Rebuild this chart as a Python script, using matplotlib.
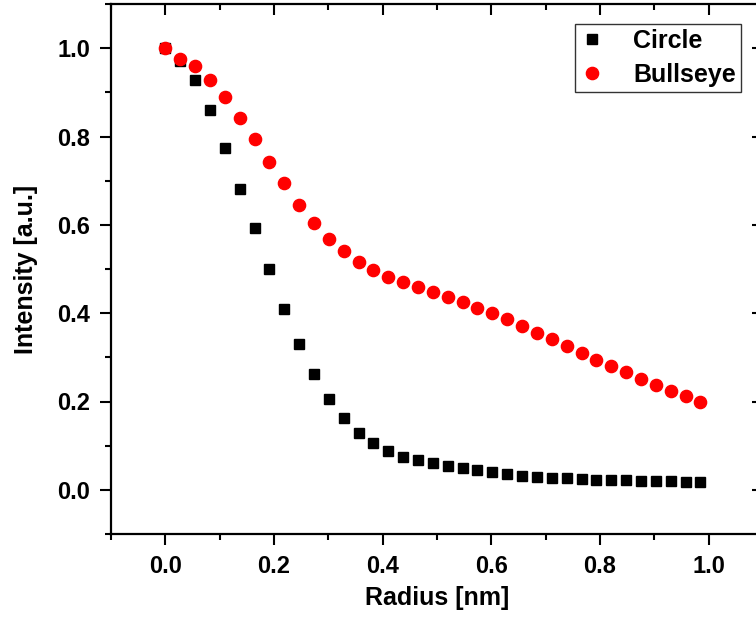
import matplotlib
matplotlib.use("Agg")
import matplotlib.pyplot as plt
from matplotlib.ticker import MultipleLocator

plt.rcParams['font.family'] = ['Liberation Sans', 'DejaVu Sans']
plt.rcParams['font.weight'] = 'bold'
plt.rcParams['axes.labelweight'] = 'bold'

# Radial sampling positions (nm)
radius = [0.0, 0.0274, 0.0547, 0.0821, 0.1094, 0.1368, 0.1642, 0.1915,
          0.2189, 0.2462, 0.2736, 0.3010, 0.3283, 0.3557, 0.3830, 0.4104,
          0.4378, 0.4651, 0.4925, 0.5198, 0.5472, 0.5746, 0.6019, 0.6293,
          0.6566, 0.6840, 0.7114, 0.7387, 0.7661, 0.7934, 0.8208, 0.8482,
          0.8755, 0.9029, 0.9302, 0.9576, 0.9850]

# Intensity profile of the circular aperture
circle = [1.000, 0.972, 0.929, 0.859, 0.774, 0.681, 0.592, 0.500,
          0.409, 0.330, 0.262, 0.206, 0.162, 0.129, 0.105, 0.087,
          0.075, 0.067, 0.061, 0.055, 0.049, 0.045, 0.041, 0.036,
          0.032, 0.029, 0.027, 0.026, 0.024, 0.023, 0.023, 0.022,
          0.021, 0.020, 0.019, 0.018, 0.017]

# Intensity profile of the bullseye structure
bullseye = [1.000, 0.976, 0.959, 0.927, 0.889, 0.843, 0.795, 0.743,
            0.695, 0.646, 0.605, 0.568, 0.541, 0.515, 0.497, 0.482,
            0.470, 0.459, 0.449, 0.437, 0.425, 0.412, 0.400, 0.386,
            0.372, 0.355, 0.342, 0.325, 0.309, 0.294, 0.280, 0.267,
            0.252, 0.238, 0.224, 0.212, 0.198]

ticks = [0.0, 0.2, 0.4, 0.6, 0.8, 1.0]
tick_labels = ['0.0', '0.2', '0.4', '0.6', '0.8', '1.0']

fig = plt.figure(figsize=(7.56, 6.25), dpi=100)
ax = fig.add_axes([0.1468, 0.1456, 0.8624, 0.848])

ax.plot(radius, circle, linestyle='none', marker='s', markersize=7.5,
        color='black', label='Circle')
ax.plot(radius, bullseye, linestyle='none', marker='o', markersize=8.8,
        color='#ff0000', label='Bullseye')

ax.set_xlim(-0.1, 1.1)
ax.set_ylim(-0.1, 1.1)
ax.set_xticks(ticks)
ax.set_yticks(ticks)
ax.xaxis.set_minor_locator(MultipleLocator(0.1))
ax.yaxis.set_minor_locator(MultipleLocator(0.1))
ax.set_xticklabels(tick_labels)
ax.set_yticklabels(tick_labels)

for sp in ax.spines.values():
    sp.set_linewidth(1.6)

ax.tick_params(which='major', direction='out', length=8, width=1.5,
               labelsize=17, pad=7)
ax.tick_params(which='minor', direction='out', length=4, width=1.5)

# Mirrored ticks on the top and right edges, pointing into the frame
top = ax.secondary_xaxis('top')
top.set_xticks(ticks)
top.xaxis.set_minor_locator(MultipleLocator(0.1))
top.tick_params(which='major', direction='in', length=8, width=1.5, labeltop=False)
top.tick_params(which='minor', direction='in', length=4, width=1.5)
top.spines['top'].set_visible(False)

right = ax.secondary_yaxis('right')
right.set_yticks(ticks)
right.yaxis.set_minor_locator(MultipleLocator(0.1))
right.tick_params(which='major', direction='in', length=8, width=1.5, labelright=False)
right.tick_params(which='minor', direction='in', length=4, width=1.5)
right.spines['right'].set_visible(False)

ax.set_xlabel('Radius [nm]', fontsize=18, labelpad=6)
ax.set_ylabel('Intensity [a.u.]', fontsize=18, labelpad=14)

leg = ax.legend(loc='upper right', bbox_to_anchor=(741 / 756, 1 - 24 / 625),
                bbox_transform=fig.transFigure, fontsize=18, fancybox=False,
                edgecolor='#333333', framealpha=1, borderpad=0.2,
                labelspacing=0.4, handlelength=1.0, handletextpad=1.15,
                borderaxespad=0)
leg.get_frame().set_linewidth(1.0)
for h in leg.legend_handles:
    h.set_markersize(7.5 if h.get_marker() == 's' else 8.8)

fig.savefig('out.png', dpi=100)
